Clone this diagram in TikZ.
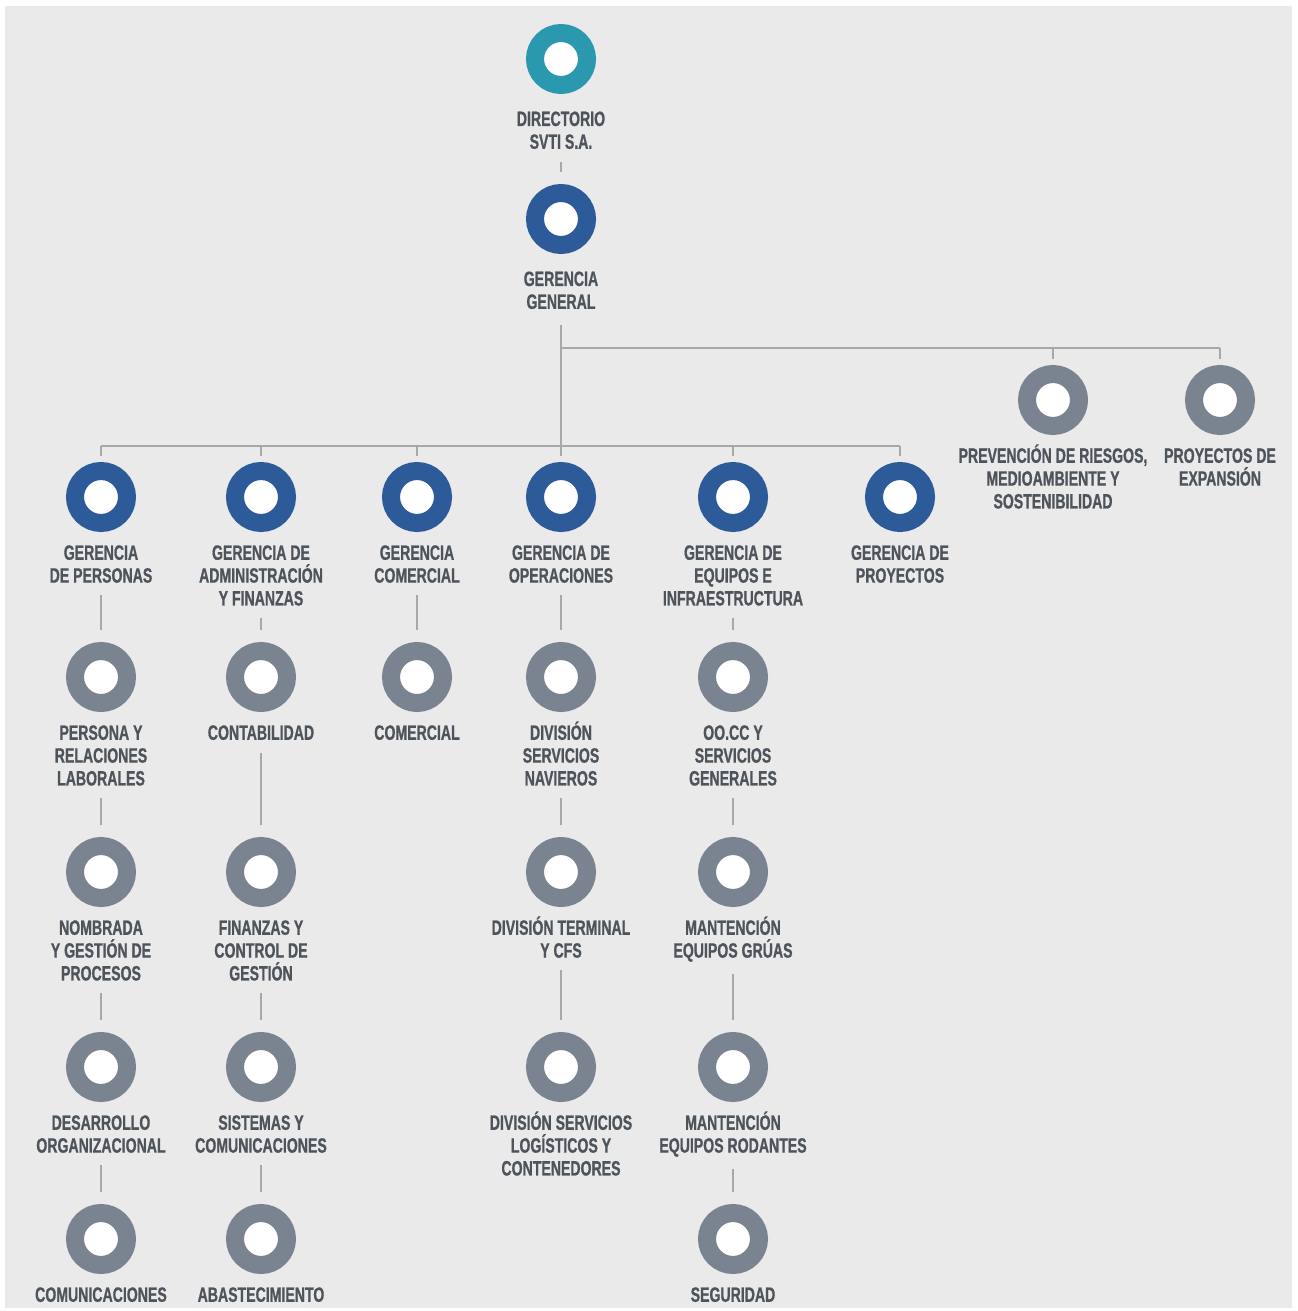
\documentclass[tikz,border=0pt]{standalone}
\usepackage{fontspec}
\usepackage{xcolor}
\usepackage{tikz}
\usetikzlibrary{positioning}
\newfontfamily\orgfont{Liberation Sans}[FakeStretch=0.68, FakeBold=0.8, UprightFont=* Bold]
\definecolor{orgteal}{HTML}{2A98AE}
\definecolor{orgblue}{HTML}{2D5A98}
\definecolor{orggray}{HTML}{7A8490}
\definecolor{orgline}{HTML}{A8A8A8}
\definecolor{orgtext}{HTML}{4E545C}
\definecolor{orgbg}{HTML}{EAEAEA}
\tikzset{
  ring/.style={circle, draw=#1, line width=3.6mm, fill=white,
    minimum size=10.4mm, inner sep=0pt},
  unitlabel/.style={font=\orgfont\fontsize{11.8}{13}\selectfont,
    text=orgtext, align=flush center, text width=4.2cm, inner sep=0pt,
    execute at begin node={\parindent=0pt\rule{0pt}{13pt}}},
  link/.style={draw=orgline, line width=1.2pt},
  linkgap/.style={link, shorten <=7pt, shorten >=7pt}
}

\begin{document}
\begin{tikzpicture}[x=0.2mm, y=-0.2mm, node distance=2.6pt]
        \useasboundingbox (0,0) rectangle (1297,1311);
        \fill[orgbg] (5,6) rectangle (1292,1308);

        % direccion
        \node[ring=orgteal] (c0) at (561,59) {};
        \node[unitlabel, below=5pt of c0] (t0) {DIRECTORIO\\SVTI S.A.};
        \node[ring=orgblue] (cgg) at (561,219) {};
        \node[unitlabel, below=5pt of cgg] (tgg) {GERENCIA\\GENERAL};

        % gerencias
        \node[ring=orgblue] (c1a) at (101,497) {};
        \node[unitlabel, below=of c1a] (t1a) {GERENCIA\\DE PERSONAS};
        \node[ring=orgblue] (c1b) at (261,497) {};
        \node[unitlabel, below=of c1b] (t1b) {GERENCIA DE\\ADMINISTRACIÓN\\Y FINANZAS};
        \node[ring=orgblue] (c1c) at (417,497) {};
        \node[unitlabel, below=of c1c] (t1c) {GERENCIA\\COMERCIAL};
        \node[ring=orgblue] (c1d) at (561,497) {};
        \node[unitlabel, below=of c1d] (t1d) {GERENCIA DE\\OPERACIONES};
        \node[ring=orgblue] (c1e) at (733,497) {};
        \node[unitlabel, below=of c1e] (t1e) {GERENCIA DE\\EQUIPOS E\\INFRAESTRUCTURA};
        \node[ring=orgblue] (c1f) at (900,497) {};
        \node[unitlabel, below=of c1f] (t1f) {GERENCIA DE\\PROYECTOS};

        % staff
        \node[ring=orggray] (c0g) at (1053,400) {};
        \node[unitlabel, below=of c0g] (t0g) {PREVENCIÓN DE RIESGOS,\\MEDIOAMBIENTE Y\\SOSTENIBILIDAD};
        \node[ring=orggray] (c0h) at (1220,400) {};
        \node[unitlabel, below=of c0h] (t0h) {PROYECTOS DE\\EXPANSIÓN};

        % areas
        \node[ring=orggray] (c2a) at (101,677) {};
        \node[unitlabel, below=of c2a] (t2a) {PERSONA Y\\RELACIONES\\LABORALES};
        \node[ring=orggray] (c3a) at (101,872) {};
        \node[unitlabel, below=of c3a] (t3a) {NOMBRADA\\Y GESTIÓN DE\\PROCESOS};
        \node[ring=orggray] (c4a) at (101,1067) {};
        \node[unitlabel, below=of c4a] (t4a) {DESARROLLO\\ORGANIZACIONAL};
        \node[ring=orggray] (c5a) at (101,1239) {};
        \node[unitlabel, below=of c5a] (t5a) {COMUNICACIONES};

        \node[ring=orggray] (c2b) at (261,677) {};
        \node[unitlabel, below=of c2b] (t2b) {CONTABILIDAD};
        \node[ring=orggray] (c3b) at (261,872) {};
        \node[unitlabel, below=of c3b] (t3b) {FINANZAS Y\\CONTROL DE\\GESTIÓN};
        \node[ring=orggray] (c4b) at (261,1067) {};
        \node[unitlabel, below=of c4b] (t4b) {SISTEMAS Y\\COMUNICACIONES};
        \node[ring=orggray] (c5b) at (261,1239) {};
        \node[unitlabel, below=of c5b] (t5b) {ABASTECIMIENTO};

        \node[ring=orggray] (c2c) at (417,677) {};
        \node[unitlabel, below=of c2c] (t2c) {COMERCIAL};

        \node[ring=orggray] (c2d) at (561,677) {};
        \node[unitlabel, below=of c2d] (t2d) {DIVISIÓN\\SERVICIOS\\NAVIEROS};
        \node[ring=orggray] (c3d) at (561,872) {};
        \node[unitlabel, below=of c3d] (t3d) {DIVISIÓN TERMINAL\\Y CFS};
        \node[ring=orggray] (c4d) at (561,1067) {};
        \node[unitlabel, below=of c4d] (t4d) {DIVISIÓN SERVICIOS\\LOGÍSTICOS Y\\CONTENEDORES};

        \node[ring=orggray] (c2e) at (733,677) {};
        \node[unitlabel, below=of c2e] (t2e) {OO.CC Y\\SERVICIOS\\GENERALES};
        \node[ring=orggray] (c3e) at (733,872) {};
        \node[unitlabel, below=of c3e] (t3e) {MANTENCIÓN\\EQUIPOS GRÚAS};
        \node[ring=orggray] (c4e) at (733,1067) {};
        \node[unitlabel, below=of c4e] (t4e) {MANTENCIÓN\\EQUIPOS RODANTES};
        \node[ring=orggray] (c5e) at (733,1239) {};
        \node[unitlabel, below=of c5e] (t5e) {SEGURIDAD};

        % lineas
        \coordinate (highbus) at (0,348);
        \coordinate (lowbus) at (0,446);
        \draw[linkgap] (t0) -- (cgg);
        \draw[link, shorten <=9pt] (tgg.south) -- (lowbus -| tgg);
        \draw[link] (highbus -| tgg) -- (highbus -| c0h);
        \draw[link] (lowbus -| c1a) -- (lowbus -| c1f);
        \foreach \n in {c0g,c0h}
          \draw[link, shorten >=3.4pt] (highbus -| \n) -- (\n.north);
        \foreach \n in {c1a,c1b,c1c,c1d,c1e,c1f}
          \draw[link, shorten >=3.4pt] (lowbus -| \n) -- (\n.north);
        \foreach \t/\c in {t1a/c2a,t2a/c3a,t3a/c4a,t4a/c5a,
                           t1b/c2b,t2b/c3b,t3b/c4b,t4b/c5b,
                           t1c/c2c,
                           t1d/c2d,t2d/c3d,t3d/c4d,
                           t1e/c2e,t2e/c3e,t3e/c4e,t4e/c5e}
          \draw[linkgap] (\t.south) -- (\c.north);
\end{tikzpicture}
\end{document}
